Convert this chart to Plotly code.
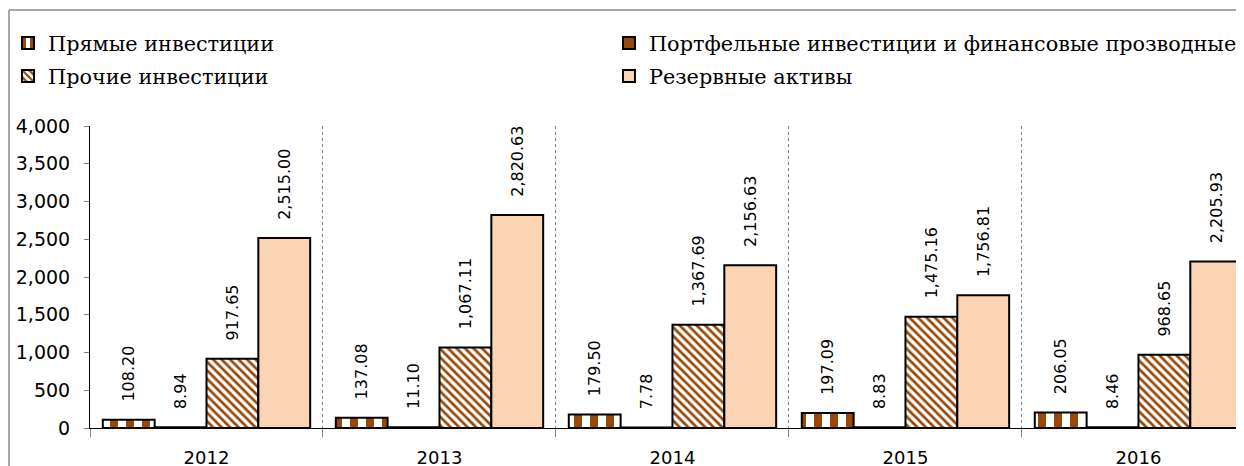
import plotly.graph_objects as go

# data (млн. долл.)
years = ['2012', '2013', '2014', '2015', '2016']
direct = [108.20, 137.08, 179.50, 197.09, 206.05]
portfolio = [8.94, 11.10, 7.78, 8.83, 8.46]
other = [917.65, 1067.11, 1367.69, 1475.16, 968.65]
reserve = [2515.00, 2820.63, 2156.63, 1756.81, 2205.93]

names = ['Прямые инвестиции',
         'Портфельные инвестиции и финансовые прозводные',
         'Прочие инвестиции',
         'Резервные активы']

brown = '#984807'
peach = '#FBD4B4'

# padding so labels sit a bit above the bars
pad = '\u00a0\u00a0\u00a0'
label_font = dict(family='DejaVu Sans', size=16, color='black')

fig = go.Figure()

# Прямые: checkered look -> vertical stripes
fig.add_trace(go.Bar(x=years, y=direct, name=names[0], legend='legend',
                     marker=dict(color='white', line=dict(color='black', width=2),
                                 pattern=dict(shape='|', fgcolor=brown, bgcolor='white',
                                              size=16, solidity=0.5, fillmode='replace'))))
fig.add_trace(go.Bar(x=years, y=portfolio, name=names[1], legend='legend2',
                     marker=dict(color=brown, line=dict(color='black', width=2))))
fig.add_trace(go.Bar(x=years, y=other, name=names[2], legend='legend3',
                     marker=dict(color='white', line=dict(color='black', width=2),
                                 pattern=dict(shape='\\', fgcolor=brown, bgcolor='white',
                                              size=6, solidity=0.45, fillmode='replace'))))
fig.add_trace(go.Bar(x=years, y=reserve, name=names[3], legend='legend4',
                     marker=dict(color=peach, line=dict(color='black', width=2))))

fig.update_traces(texttemplate=pad + '%{y:,.2f}', textposition='outside', textangle=-90,
                  textfont=label_font, constraintext='none', cliponaxis=False)

# chart frame (grey border top / left)
fr = dict(type='line', xref='paper', yref='paper', line=dict(color='#a6a6a6', width=2))
fig.add_shape(x0=-0.0702, x1=1.01, y0=1.384, y1=1.384, **fr)
fig.add_shape(x0=-0.0702, x1=-0.0702, y0=1.384, y1=-0.16, **fr)

# one legend per item so the two columns can be placed like the original
leg = dict(orientation='h', xref='container', yref='container', xanchor='left', yanchor='top',
           font=dict(family='DejaVu Serif', size=20.8, color='black'), bgcolor='rgba(0,0,0,0)')
col1, col2 = 0.0, 0.4831
row1, row2 = 0.9678, 0.897

fig.update_layout(
    width=1244, height=466,
    margin=dict(l=82, r=8, t=118, b=46),
    plot_bgcolor='white', paper_bgcolor='white',
    barmode='group', bargap=0.11, bargroupgap=0,
    showlegend=True,
    legend=dict(leg, x=col1, y=row1),
    legend2=dict(leg, x=col2, y=row1),
    legend3=dict(leg, x=col1, y=row2),
    legend4=dict(leg, x=col2, y=row2),
    xaxis=dict(range=[-0.5, 4.453], showline=True, linecolor='black', linewidth=1,
               tickson='boundaries', ticks='outside', ticklen=8, tickcolor='#808080',
               showgrid=True, gridcolor='#808080', griddash='dot', gridwidth=1,
               ticklabelstandoff=13, automargin=False,
               tickfont=dict(family='DejaVu Sans', size=18, color='black')),
    yaxis=dict(range=[0, 4000], dtick=500, tickformat=',', showline=True, linecolor='black',
               linewidth=1, ticks='outside', ticklen=5, tickcolor='#808080', showgrid=False,
               zeroline=False, ticklabelstandoff=10, automargin=False,
               tickfont=dict(family='DejaVu Sans', size=19, color='black')),
)

fig.write_html("out.html")
